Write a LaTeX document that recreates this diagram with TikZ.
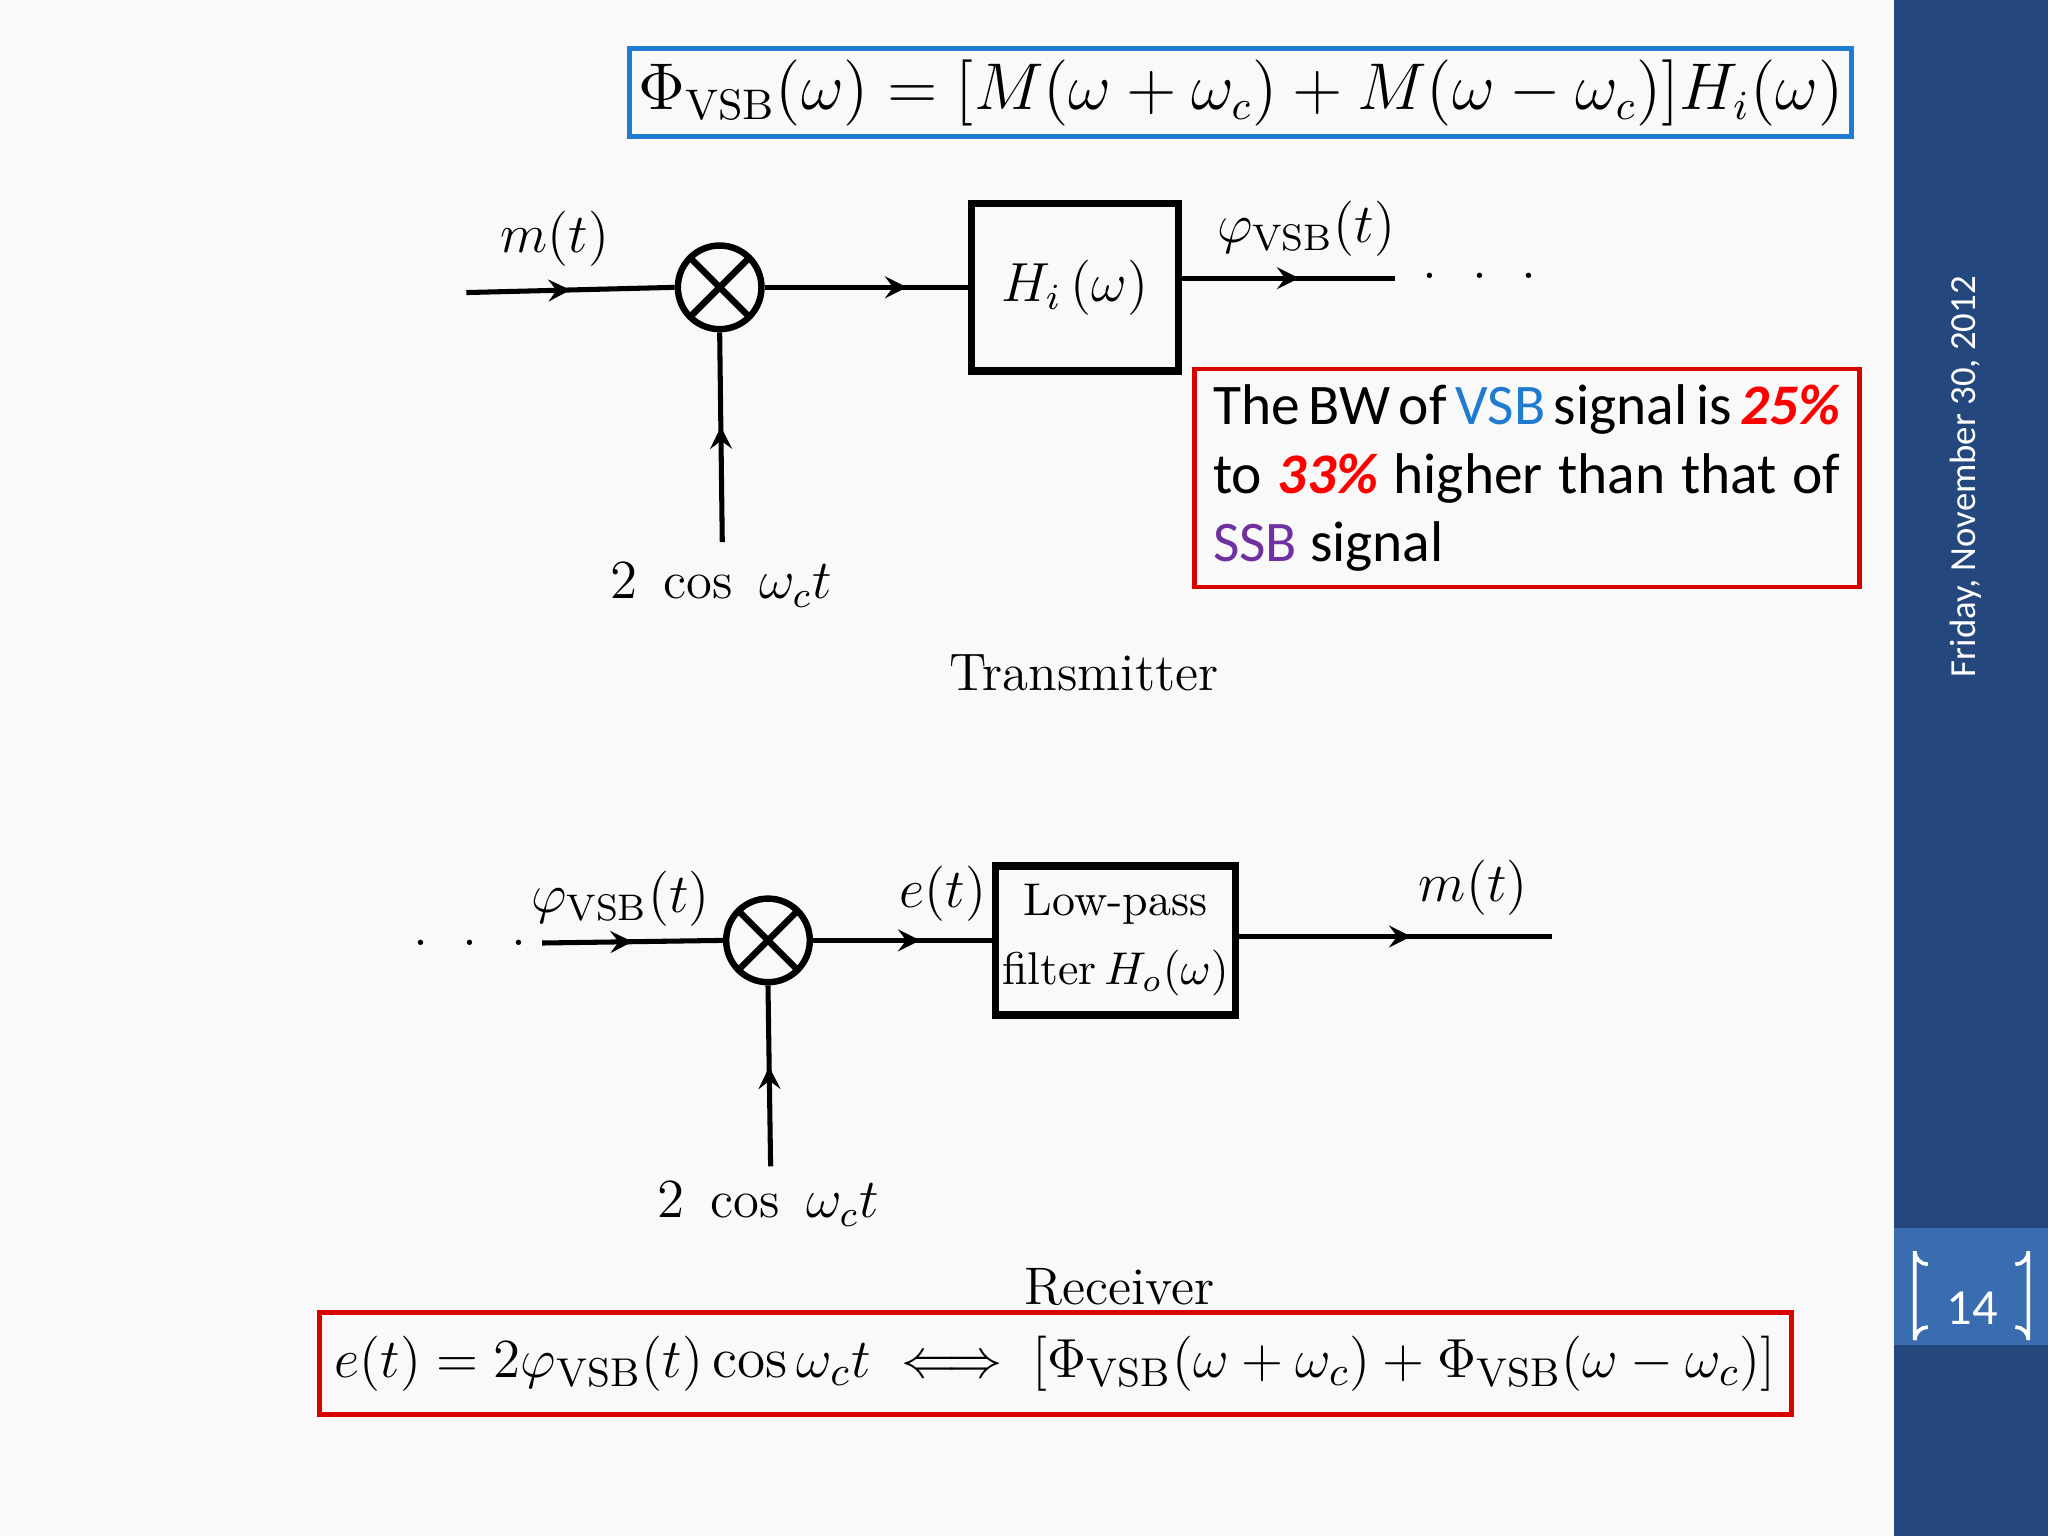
\documentclass[tikz,border=0pt]{standalone}
\usepackage{fontspec}
\usepackage{amsmath}
\newfontfamily\carl{Carlito}
\usetikzlibrary{decorations.markings}
\definecolor{side}{HTML}{24487E}
\definecolor{sidel}{HTML}{3A6CB0}
\definecolor{vsbc}{HTML}{1F7BD0}
\definecolor{ssbc}{HTML}{7030A0}
\begin{document}
\begin{tikzpicture}[x=0.01cm,y=-0.01cm,
  midarrow/.style={decoration={markings,mark=at position #1 with {\arrow{stealth}}},postaction=decorate},
  sig/.style={line width=1.1pt},
  mixer/.style={circle,draw,line width=1.4pt,minimum size=0.64cm,inner sep=0pt,
    path picture={\draw[line width=1.4pt] (path picture bounding box.north west)--(path picture bounding box.south east)
      (path picture bounding box.north east)--(path picture bounding box.south west);}},
  blk/.style={draw,line width=1.6pt,inner sep=0pt},
  lab/.style={font=\fontsize{11.5}{14}\selectfont},
  ]
\useasboundingbox (0,0) rectangle (1568,1176);
\fill[white!95!gray] (0,0) rectangle (1450,1176);
\fill[side] (1450,0) rectangle (1568,1176);
\fill[sidel] (1450,940) rectangle (1568,1030);
\draw[white,line width=0.8pt] (1476,968) arc[start angle=90,end angle=180,radius=10] -- (1466,1026) arc[start angle=180,end angle=270,radius=10];
\draw[white,line width=0.8pt] (1543,968) arc[start angle=90,end angle=0,radius=10] -- (1553,1026) arc[start angle=0,end angle=-90,radius=10];
\node[white,font=\carl\fontsize{11}{13}\selectfont] (pg) at (1510,1002) {14};
\node[white,rotate=90,font=\carl\fontsize{8}{10}\selectfont] (date) at (1505,365) {Friday, November 30, 2012};

% top formula
\node[draw=vsbc,line width=1.1pt,minimum width=9.35cm,minimum height=0.67cm,inner sep=1pt,font=\fontsize{13.3}{16}\selectfont] (f1) at (950,71)
 {$\Phi_{\mathrm{VSB}}(\omega)=[M(\omega+\omega_c)+M(\omega-\omega_c)]H_i(\omega)$};

% transmitter
\coordinate (tin) at (357,224);
\node[mixer] (tm) at (551,220) {};
\node[blk,minimum width=1.58cm,minimum height=1.28cm] (hi) at (823,220) {};
\node[lab] at (823,220) {$H_i\,(\omega)$};
\coordinate (tout) at (1068,213);
\coordinate (tlo) at (553,415);
\draw[sig,midarrow=0.5] (tin) -- (tm.west);
\draw[sig,midarrow=0.7] (tm.east) -- (hi.west);
\draw[sig,midarrow=0.55] (hi.east|-tout) -- (tout);
\draw[sig,midarrow=0.55] (tlo) -- (tm.south);
\node[lab] (lm) at (425,183) {$m(t)$};
\node[lab] (lp) at (1000,175) {$\varphi_{\mathrm{VSB}}(t)$};
\node[lab] (dots1) at (1133,211) {$.\ \ .\ \ .$};
\node[lab] (lc) at (552,448) {$2\ \cos\ \omega_c t$};
\node[lab] (tr) at (830,515) {Transmitter};

% note
\node[draw=red!85!black,line width=1pt,minimum width=5.09cm,minimum height=1.57cm,text width=4.8cm,align=justify,
 font=\carl\fontsize{12.5}{15}\selectfont] (note) at (1169,366)
 {The BW of {\color{vsbc}VSB} signal is {\color{red}\bfseries\itshape 25\%} to {\color{red}\bfseries\itshape 33\%} higher than that of {\color{ssbc}SSB} signal};

% receiver
\node[lab] (dots2) at (360,722) {$.\ \ .\ \ .$};
\coordinate (rin) at (415,722);
\node[mixer] (rm) at (588,720) {};
\node[blk,minimum width=1.84cm,minimum height=1.14cm] (lp2) at (854,720) {};
\node[align=center,font=\fontsize{10}{15}\selectfont] at (854,720) {Low-pass\\filter\,$H_o(\omega)$};
\coordinate (rout) at (1188,717);
\coordinate (rlo) at (590,893);
\draw[sig,midarrow=0.5] (rin) -- (rm.west);
\draw[sig,midarrow=0.6] (rm.east) -- (lp2.west);
\draw[sig,midarrow=0.55] (lp2.east|-rout) -- (rout);
\draw[sig,midarrow=0.55] (rlo) -- (rm.south);
\node[lab] (rl1) at (475,688) {$\varphi_{\mathrm{VSB}}(t)$};
\node[lab] (rl2) at (722,684) {$e(t)$};
\node[lab] (rl3) at (1128,680) {$m(t)$};
\node[lab] (rl4) at (588,922) {$2\ \cos\ \omega_c t$};
\node[lab] (rc) at (857,985) {Receiver};

% bottom formula
\node[draw=red!85!black,line width=1.1pt,minimum width=11.23cm,minimum height=0.78cm,font=\fontsize{12.5}{15}\selectfont] (f2) at (808,1044)
 {$e(t)=2\varphi_{\mathrm{VSB}}(t)\cos\omega_c t\iff[\Phi_{\mathrm{VSB}}(\omega+\omega_c)+\Phi_{\mathrm{VSB}}(\omega-\omega_c)]$};
\end{tikzpicture}
\end{document}
